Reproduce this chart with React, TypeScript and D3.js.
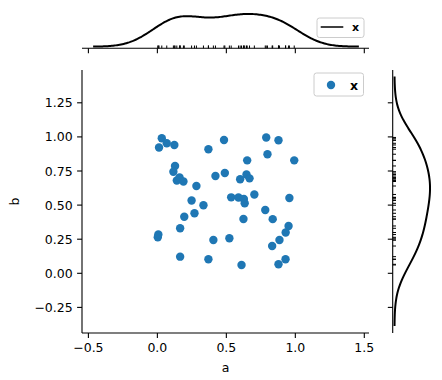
import React from "react";
import * as d3 from "d3";

const xs = [0.032,0.012,0.068,0.123,0.370,0.483,0.789,0.878,0.798,0.992,0.651,0.128,0.116,0.141,0.161,0.189,0.283,0.421,0.489,0.600,0.646,0.668,0.703,0.535,0.588,0.627,0.633,0.957,0.248,0.334,0.269,0.195,0.624,0.782,0.836,0.951,0.930,0.165,0.003,0.007,0.406,0.522,0.885,0.832,0.165,0.370,0.610,0.878,0.929];
const ys = [0.990,0.922,0.953,0.941,0.910,0.977,0.996,0.975,0.873,0.828,0.828,0.787,0.745,0.680,0.702,0.673,0.640,0.713,0.735,0.690,0.724,0.696,0.578,0.557,0.556,0.545,0.513,0.552,0.534,0.499,0.440,0.415,0.398,0.464,0.397,0.347,0.299,0.330,0.264,0.284,0.244,0.257,0.244,0.200,0.122,0.103,0.061,0.066,0.103];
const xTicks = [-0.5, 0.0, 0.5, 1.0, 1.5];
const yTicks = [-0.25, 0.0, 0.25, 0.5, 0.75, 1.0, 1.25];
const seriesLabel = "x";
const xLabel = "a";
const yLabel = "b";

function bandwidth(v: number[], adjust: number) {
  const n = v.length;
  const sd = d3.deviation(v) as number;
  const s = [...v].sort((a, b) => a - b);
  const iqr = (d3.quantileSorted(s, 0.75) as number) - (d3.quantileSorted(s, 0.25) as number);
  const a = Math.min(sd, iqr / 1.349);
  return adjust * 1.059 * a * Math.pow(n, -0.2);
}
function kde(v: number[], adjust: number) {
  const bw = bandwidth(v, adjust);
  const lo = (d3.min(v) as number) - 3 * bw;
  const hi = (d3.max(v) as number) + 3 * bw;
  const pts: [number, number][] = [];
  const N = 200;
  for (let i = 0; i <= N; i++) {
    const t = lo + ((hi - lo) * i) / N;
    let s = 0;
    for (const d of v) {
      const z = (t - d) / bw;
      s += Math.exp(-0.5 * z * z);
    }
    pts.push([t, s / (v.length * bw * Math.sqrt(2 * Math.PI))]);
  }
  return pts;
}

const FONT = "DejaVu Sans, sans-serif";
const FS = 12.5;

export default function App() {
  const L = 82, R = 369, T = 70, B = 333;
  const x = d3.scaleLinear().domain([-0.5, 1.5]).range([88.4, 364.3]);
  const y = d3.scaleLinear().domain([0, 1.25]).range([273.3, 102.8]);

  const kx = kde(xs, 1.04);
  const ky = kde(ys, 1.1);
  const mx = d3.max(kx, (d) => d[1]) as number;
  const my = d3.max(ky, (d) => d[1]) as number;
  const topB = 48.3, topT = 12.3;
  const ty = d3.scaleLinear().domain([-0.05 * mx, 1.05 * mx]).range([topB, topT]);
  const rL = 392.7, rR = 431.8;
  const rx = d3.scaleLinear().domain([-0.05 * my, 1.05 * my]).range([rL, rR]);

  const topLine = d3.line<[number, number]>().x((d) => x(d[0])).y((d) => ty(d[1]))(kx) as string;
  const rightLine = d3.line<[number, number]>().x((d) => rx(d[1])).y((d) => y(d[0]))(ky) as string;

  const tl = 4.9;
  return (
    <svg width={442} height={380} style={{ position: "absolute", left: 0, top: 0, background: "#fff" }} fontFamily={FONT}>
      <rect width={442} height={380} fill="#fff" />
      {xs.map((v, i) => (
        <circle key={i} cx={x(v)} cy={y(ys[i])} r={4.2} fill="#1f77b4" />
      ))}
      <line x1={L} x2={L} y1={T} y2={B} stroke="#000" strokeWidth={1.1} />
      <line x1={L} x2={R} y1={B} y2={B} stroke="#000" strokeWidth={1.1} />
      {xTicks.map((t) => (
        <g key={"x" + t}>
          <line x1={x(t)} x2={x(t)} y1={B} y2={B + tl} stroke="#000" strokeWidth={1.1} />
          <text x={x(t)} y={B + tl + 4.4 + FS * 0.76} fontSize={FS} textAnchor="middle" fill="#000">
            {t < 0 ? "\u2212" + Math.abs(t).toFixed(1) : t.toFixed(1)}
          </text>
        </g>
      ))}
      {yTicks.map((t) => (
        <g key={"y" + t}>
          <line x1={L - tl} x2={L} y1={y(t)} y2={y(t)} stroke="#000" strokeWidth={1.1} />
          <text x={L - tl - 4.4} y={y(t)} dy="0.36em" fontSize={FS} textAnchor="end" fill="#000">
            {t < 0 ? "\u2212" + Math.abs(t).toFixed(2) : t.toFixed(2)}
          </text>
        </g>
      ))}
      <text x={(L + R) / 2} y={372} fontSize={FS} textAnchor="middle" fill="#000">{xLabel}</text>
      <text transform={`translate(19,${(T + B) / 2}) rotate(-90)`} fontSize={FS} textAnchor="middle" fill="#000">{yLabel}</text>
      <rect x={314} y={73} width={49.5} height={23} rx={2.5} fill="#fff" fillOpacity={0.8} stroke="#ccc" strokeWidth={1} />
      <circle cx={331} cy={85} r={4.2} fill="#1f77b4" />
      <text x={350} y={85} dy="0.36em" fontSize={FS} fontWeight="bold" fill="#000">{seriesLabel}</text>

      <path d={topLine} fill="none" stroke="#000" strokeWidth={2} />
      {xs.map((v, i) => (
        <line key={"rx" + i} x1={x(v)} x2={x(v)} y1={topB} y2={topB - 2.8} stroke="#000" strokeWidth={1} />
      ))}
      <line x1={L} x2={R} y1={topB} y2={topB} stroke="#000" strokeWidth={1.1} />
      {xTicks.map((t) => (
        <line key={"tx" + t} x1={x(t)} x2={x(t)} y1={topB} y2={topB + tl} stroke="#000" strokeWidth={1.1} />
      ))}
      <rect x={317} y={18} width={47} height={19.5} rx={2.5} fill="#fff" fillOpacity={0.8} stroke="#ccc" strokeWidth={1} />
      <line x1={320.7} x2={343.3} y1={27} y2={27} stroke="#000" strokeWidth={1.5} />
      <text x={352} y={27.5} dy="0.36em" fontSize={11} fontWeight="bold" fill="#000">{seriesLabel}</text>

      <path d={rightLine} fill="none" stroke="#000" strokeWidth={2} />
      {ys.map((v, i) => (
        <line key={"ry" + i} x1={rL} x2={rL + 3.3} y1={y(v)} y2={y(v)} stroke="#000" strokeWidth={1} />
      ))}
      <line x1={rL} x2={rL} y1={T} y2={B} stroke="#000" strokeWidth={1.1} />
      {yTicks.map((t) => (
        <line key={"ty" + t} x1={rL - tl} x2={rL} y1={y(t)} y2={y(t)} stroke="#000" strokeWidth={1.1} />
      ))}
    </svg>
  );
}
